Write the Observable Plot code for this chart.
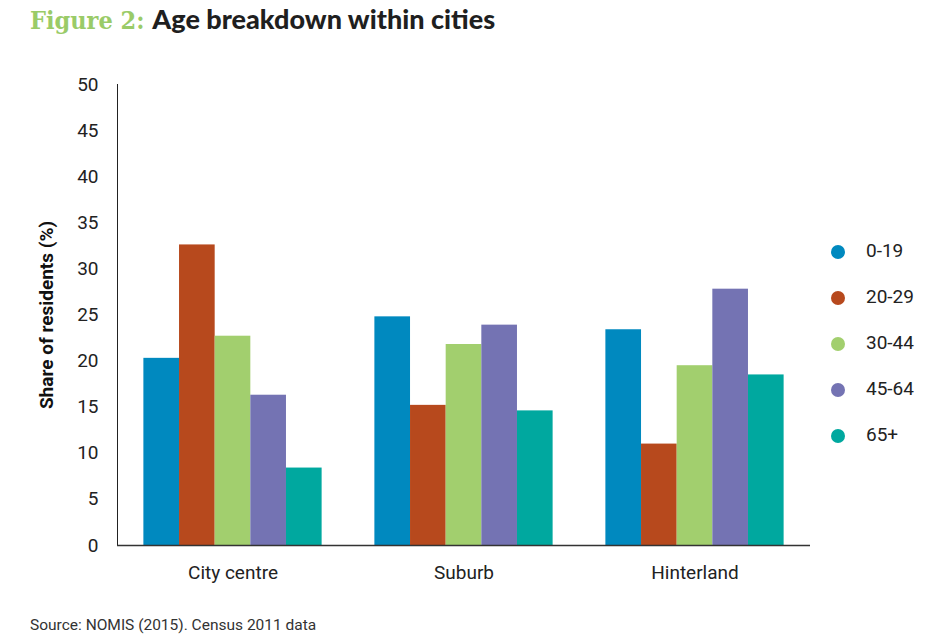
<!DOCTYPE html>
<html>
<head>
<meta charset="utf-8">
<script src="https://cdn.jsdelivr.net/npm/d3@7"></script>
<script src="https://cdn.jsdelivr.net/npm/@observablehq/plot@0.6"></script>
<style>
  body { margin: 0; background: #fff; font-family: Roboto, "Liberation Sans", sans-serif; }
  #wrap { position: relative; width: 936px; height: 642px; overflow: hidden; }
  #title { height: 50px; position: relative; }
  #title span.fig { position: absolute; left: 30px; top: 2px; font-family: "DejaVu Serif Condensed", "DejaVu Serif", serif; font-weight: bold; font-size: 25px; color: #9ACB68; white-space: nowrap; }
  #title .t { font-family: Lato, "DejaVu Sans", sans-serif; font-weight: 900; color: #1f1f1f; font-size: 27px; }
  #chart svg { display: block; }
  #chart svg [aria-label="y-axis label"] text { font-weight: bold; font-size: 19px; fill: #111; }
  #legend { position: absolute; left: 830px; top: 238px; }
  #legend .item { position: relative; height: 46px; font-size: 19px; color: #222; white-space: nowrap; }
  #legend .dot { position: absolute; left: 1px; top: 7px; width: 14px; height: 14px; border-radius: 50%; }
  #legend .lab { position: absolute; left: 36px; top: 2px; line-height: 22px; }
  #caption { position: absolute; left: 30px; top: 616px; font-size: 15.5px; color: #333; white-space: nowrap; }
</style>
</head>
<body>
<div id="wrap">
  <div id="title"><span class="fig">Figure 2: <span class="t">Age breakdown within cities</span></span></div>
  <div id="chart"></div>
  <div id="legend"></div>
  <div id="caption">Source: NOMIS (2015). Census 2011 data</div>
</div>
<script>
// Categories and series
const cities = ["City centre", "Suburb", "Hinterland"];
const ageGroups = ["0-19", "20-29", "30-44", "45-64", "65+"];
const age0_19  = [20.3, 24.8, 23.4];
const age20_29 = [32.6, 15.2, 11.0];
const age30_44 = [22.7, 21.8, 19.5];
const age45_64 = [16.3, 23.9, 27.8];
const age65    = [8.4, 14.6, 18.5];
const yTicks = [0, 5, 10, 15, 20, 25, 30, 35, 40, 45, 50];
const colors = ["#0089BF", "#B7491D", "#A2CF6E", "#7473B3", "#00A89F"];

const seriesList = [age0_19, age20_29, age30_44, age45_64, age65];
const data = [];
cities.forEach((c, i) => {
  ageGroups.forEach((a, j) => data.push({city: c, age: a, value: seriesList[j][i]}));
});

const plot = Plot.plot({
  width: 936,
  height: 560,
  marginLeft: 116,
  marginRight: 126,
  marginTop: 34,
  marginBottom: 65,
  style: {fontFamily: "Roboto, 'Liberation Sans', sans-serif", fontSize: "19px", color: "#222", background: "transparent"},
  fx: {domain: cities, padding: 0, label: null, tickSize: 0, tickPadding: 20, axis: "bottom"},
  x: {domain: ageGroups, paddingInner: 0, paddingOuter: 0.74, axis: null, round: false},
  y: {domain: [0, 50], ticks: yTicks, tickSize: 0, tickPadding: 19, label: "Share of residents (%)", labelAnchor: "center", labelOffset: 78, line: true, labelArrow: "none"},
  color: {domain: ageGroups, range: colors},
  marks: [
    Plot.barY(data, {fx: "city", x: "age", y: "value", fill: "age"}),
    Plot.ruleY([0], {stroke: "#333", strokeWidth: 1.5})
  ]
});
document.getElementById("chart").appendChild(plot);
d3.select(plot).selectAll('[aria-label="y-axis line"] path, [aria-label="y-axis line"] line').attr("stroke", "#333").attr("stroke-width", 1.5);

// Legend
const leg = d3.select("#legend");
ageGroups.forEach((a, j) => {
  const it = leg.append("div").attr("class", "item");
  it.append("div").attr("class", "dot").style("background", colors[j]);
  it.append("div").attr("class", "lab").text(a);
});
</script>
</body>
</html>
